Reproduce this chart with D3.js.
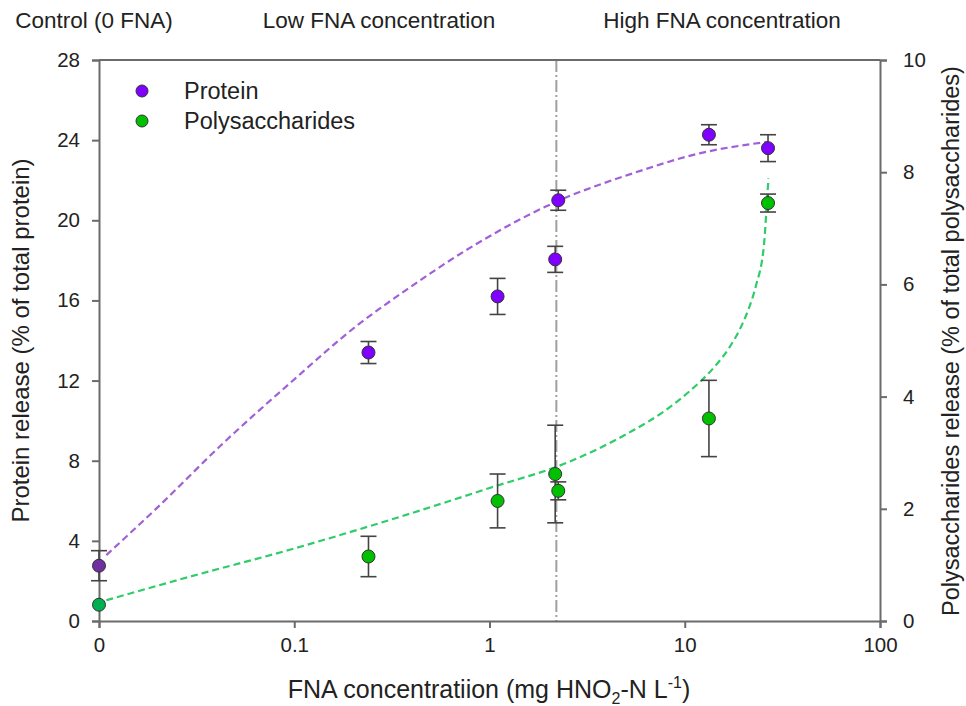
<!DOCTYPE html>
<html>
<head>
<meta charset="utf-8">
<script src="https://cdn.jsdelivr.net/npm/d3@7"></script>
<style>
  html, body { margin: 0; padding: 0; background: #fff; }
  svg { display: block; font-family: "Liberation Sans", Arial, Helvetica, sans-serif; }
</style>
</head>
<body>
<svg id="chart" width="966" height="706"></svg>
<script>
// ---------------- data ----------------
const fnaConc      = [0, 0.24, 1.1, 2.17, 2.25, 13.3, 26.7];   // mg HNO2-N/L
const proteinMean  = [2.76, 13.4, 16.2, 18.05, 21.0, 24.27, 23.6];
const proteinErr   = [0.75, 0.55, 0.9, 0.65, 0.5, 0.5, 0.67];
const polyMean     = [0.29, 1.15, 2.14, 2.62, 2.32, 3.61, 7.45];
const polyErr      = [0.0, 0.36, 0.48, 0.87, 0.16, 0.68, 0.16];

// fitted trend curves
const proteinFitX = [0.0109, 0.0197, 0.0432, 0.0948, 0.208, 0.39, 0.76, 2.19, 5.41, 11.9, 26.7];
const proteinFitY = [3.29, 5.62, 8.87, 11.86, 14.72, 16.64, 18.51, 20.92, 22.34, 23.34, 23.92];
const polyFitX = [0.0109, 0.0292, 0.0948, 0.308, 1.0, 2.57, 3.65, 5.39, 8.01, 10.54, 14.44, 16.89, 19.76, 21.38, 23.13, 25.51, 26.34, 26.84];
const polyFitY = [0.37, 0.79, 1.27, 1.80, 2.37, 2.84, 3.08, 3.39, 3.76, 4.09, 4.56, 4.87, 5.30, 5.59, 5.97, 6.74, 7.46, 7.89];

const boundaryConc = 2.2;

const xTickValues = [0, 0.1, 1, 10, 100];
const xTickLabels = ["0", "0.1", "1", "10", "100"];
const yLeftTicks  = [0, 4, 8, 12, 16, 20, 24, 28];
const yRightTicks = [0, 2, 4, 6, 8, 10];

const regionLabels = ["Control (0 FNA)", "Low FNA concentration", "High FNA concentration"];
const regionCenters = [94, 379, 722];
const seriesNames = ["Protein", "Polysaccharides"];

// ---------------- layout ----------------
const L = 99, R = 880, T = 60, B = 621;
const zeroPos = 0.01; // "0" is drawn one decade below 0.1

const svg = d3.select("#chart");
const x = d3.scaleLog().domain([0.01, 100]).range([L, R]);
const xp = v => x(v === 0 ? zeroPos : v);
const yL = d3.scaleLinear().domain([0, 28]).range([B, T]);
const yR = d3.scaleLinear().domain([0, 10]).range([B, T]);

const axisColor = "#6b6b6b";
const protFill = "#8000ff", protFill0 = "#7030a0";
const polyFill = "#00c000", polyFill0 = "#00b050";
const protLine = "#a060d8", polyLine = "#2ecc6a";

// region labels
svg.selectAll("text.region").data(regionLabels).join("text")
  .attr("class", "region")
  .attr("x", (d, i) => regionCenters[i]).attr("y", 28)
  .attr("text-anchor", "middle")
  .attr("font-size", 22.5).attr("fill", "#222")
  .text(d => d);

// vertical boundary
svg.append("line")
  .attr("x1", xp(boundaryConc)).attr("x2", xp(boundaryConc))
  .attr("y1", T).attr("y2", B)
  .attr("stroke", "#a0a0a0").attr("stroke-width", 2)
  .attr("stroke-dasharray", "12,3,2,3");

// axes
const gx = svg.append("g").attr("transform", `translate(0,${B})`)
  .call(d3.axisBottom(x).tickValues(xTickValues.map(v => v === 0 ? zeroPos : v))
    .tickFormat((d, i) => xTickLabels[i]).tickSizeOuter(0).tickSize(7).tickPadding(9));
const gl = svg.append("g").attr("transform", `translate(${L},0)`)
  .call(d3.axisLeft(yL).tickValues(yLeftTicks).tickSizeOuter(0).tickSize(7).tickPadding(12));
const gr = svg.append("g").attr("transform", `translate(${R},0)`)
  .call(d3.axisRight(yR).tickValues(yRightTicks).tickSizeOuter(0).tickSize(7).tickPadding(16));
[gx, gl, gr].forEach(g => {
  g.select(".domain").attr("stroke", axisColor).attr("stroke-width", 2);
  g.selectAll(".tick line").attr("stroke", axisColor).attr("stroke-width", 2);
  g.selectAll(".tick text").attr("font-size", 20.5).attr("fill", "#222")
    .attr("font-family", "Liberation Sans, Arial, sans-serif");
});
// top frame line
svg.append("line").attr("x1", L).attr("x2", R).attr("y1", T).attr("y2", T)
  .attr("stroke", axisColor).attr("stroke-width", 2);

// fit curves
const protFit = proteinFitX.map((v, i) => [xp(v), yL(proteinFitY[i])]);
const polyFit = polyFitX.map((v, i) => [xp(v), yR(polyFitY[i])]);
const lineGen = d3.line().curve(d3.curveMonotoneX);
svg.append("path").attr("d", lineGen(protFit)).attr("fill", "none")
  .attr("stroke", protLine).attr("stroke-width", 2.2).attr("stroke-dasharray", "7,4");
svg.append("path").attr("d", lineGen(polyFit)).attr("fill", "none")
  .attr("stroke", polyLine).attr("stroke-width", 2.2).attr("stroke-dasharray", "7,4");

// error bars + points
function drawSeries(means, errs, yScale, fill, fill0) {
  const g = svg.append("g");
  const cap = 8;
  fnaConc.forEach((c, i) => {
    const cx = xp(c), e = errs[i];
    if (e > 0) {
      const y1 = yScale(means[i] + e), y2 = yScale(means[i] - e);
      g.append("line").attr("x1", cx).attr("x2", cx).attr("y1", y1).attr("y2", y2)
        .attr("stroke", "#444").attr("stroke-width", 1.6);
      [y1, y2].forEach(yy => g.append("line").attr("x1", cx - cap).attr("x2", cx + cap)
        .attr("y1", yy).attr("y2", yy).attr("stroke", "#444").attr("stroke-width", 1.6));
    }
  });
  g.selectAll("circle").data(means).join("circle")
    .attr("cx", (d, i) => xp(fnaConc[i])).attr("cy", d => yScale(d))
    .attr("r", 6.5)
    .attr("fill", (d, i) => i === 0 ? fill0 : fill)
    .attr("stroke", "#333").attr("stroke-width", 1);
}
drawSeries(polyMean, polyErr, yR, polyFill, polyFill0);
drawSeries(proteinMean, proteinErr, yL, protFill, protFill0);

// legend
const legFills = [protFill, polyFill];
const leg = svg.append("g");
seriesNames.forEach((n, i) => {
  leg.append("circle").attr("cx", 142).attr("cy", 91 + i * 30).attr("r", 6)
    .attr("fill", legFills[i]).attr("stroke", "#333").attr("stroke-width", 1);
  leg.append("text").attr("x", 184).attr("y", 91 + i * 30).attr("dy", "0.35em")
    .attr("font-size", 23.5).attr("fill", "#222").text(n);
});

// axis titles
const xt = svg.append("text").attr("x", 489).attr("y", 698).attr("text-anchor", "middle")
  .attr("font-size", 25).attr("fill", "#222");
xt.append("tspan").text("FNA concentratiion (mg HNO");
xt.append("tspan").attr("font-size", 16).attr("dy", 6).text("2");
xt.append("tspan").attr("dy", -6).text("-N L");
xt.append("tspan").attr("font-size", 16).attr("dy", -10).text("-1");
xt.append("tspan").attr("dy", 10).text(")");

svg.append("text").attr("transform", `translate(29,${(T + B) / 2}) rotate(-90)`)
  .attr("text-anchor", "middle").attr("font-size", 24).attr("fill", "#222")
  .text("Protein release (% of total protein)");
svg.append("text").attr("transform", `translate(959,341) rotate(-90)`)
  .attr("text-anchor", "middle").attr("font-size", 23.5).attr("fill", "#222")
  .text("Polysaccharides release (% of total polysaccharides)");
</script>
</body>
</html>
